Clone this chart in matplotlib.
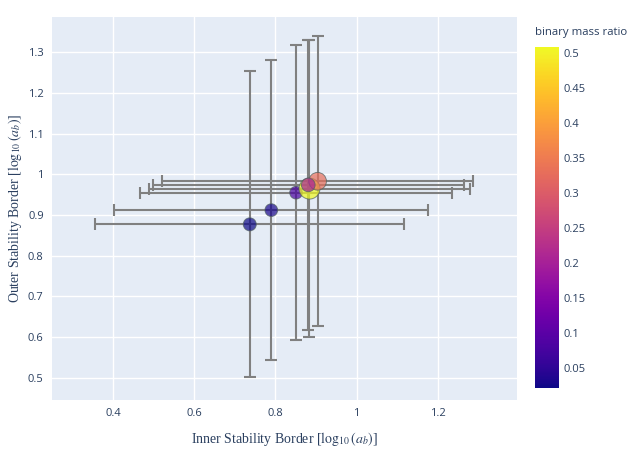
import numpy as np
import matplotlib
matplotlib.use("Agg")
import matplotlib.pyplot as plt
from matplotlib.colors import Normalize

# values
inner = [0.737, 0.790, 0.851, 0.884, 0.904, 0.881]
outer = [0.877, 0.912, 0.955, 0.965, 0.983, 0.974]
inner_err = [0.380, 0.387, 0.385, 0.395, 0.382, 0.383]
outer_err = [0.376, 0.369, 0.363, 0.366, 0.357, 0.357]
mass_ratio = [0.022, 0.030, 0.080, 0.509, 0.330, 0.200]
marker_px = [13.0, 12.7, 12.7, 21.0, 17.7, 13.7]

x_ticks = [0.4, 0.6, 0.8, 1.0, 1.2]
x_ticklabels = ["0.4", "0.6", "0.8", "1", "1.2"]
y_ticks = [0.5, 0.6, 0.7, 0.8, 0.9, 1.0, 1.1, 1.2, 1.3]
y_ticklabels = ["0.5", "0.6", "0.7", "0.8", "0.9", "1", "1.1", "1.2", "1.3"]
cb_ticks = [0.05, 0.1, 0.15, 0.2, 0.25, 0.3, 0.35, 0.4, 0.45, 0.5]
cb_ticklabels = ["0.05", "0.1", "0.15", "0.2", "0.25", "0.3", "0.35", "0.4", "0.45", "0.5"]

W, H = 640, 459
txt = "#2a3f5f"
plt.rcParams["font.family"] = ["Open Sans", "DejaVu Sans"]
plt.rcParams["mathtext.fontset"] = "stix"

fig = plt.figure(figsize=(W / 100, H / 100), dpi=100)
ax = fig.add_axes([52 / W, 1 - 400 / H, 465 / W, 383 / H])
ax.set_facecolor("#E5ECF6")
for s in ax.spines.values():
    s.set_visible(False)
ax.grid(True, color="white", linewidth=1.0)
ax.set_axisbelow(True)

ax.errorbar(inner, outer, xerr=inner_err, yerr=outer_err, fmt="none",
            ecolor="#808080", elinewidth=1.5, capsize=4, capthick=1.5, zorder=2)

norm = Normalize(vmin=min(mass_ratio), vmax=max(mass_ratio))
sizes = [(d * 0.72) ** 2 for d in marker_px]
sc = ax.scatter(inner, outer, c=mass_ratio, s=sizes, cmap="plasma", norm=norm,
                alpha=0.7, edgecolors="#4f6060", linewidths=0.7, zorder=3)

ax.set_xlim(0.25, 1.395)
ax.set_ylim(0.445, 1.387)
ax.set_xticks(x_ticks, x_ticklabels)
ax.set_yticks(y_ticks, y_ticklabels)
ax.tick_params(length=0, labelsize=8, labelcolor=txt, pad=6)

ax.set_xlabel(r"Inner Stability Border [$\log_{10}(a_b)$]", family="Liberation Serif",
              fontsize=10, color=txt)
ax.xaxis.label.set_verticalalignment("center")
ax.xaxis.set_label_coords(0.5, -(439 - 400) / 383)
ax.set_ylabel(r"Outer Stability Border [$\log_{10}(a_b)$]", family="Liberation Serif",
              fontsize=10, color=txt)
ax.yaxis.label.set_verticalalignment("center")
ax.yaxis.set_label_coords(-(52 - 15) / 465, 0.5)

cax = fig.add_axes([535 / W, 1 - 388 / H, 24 / W, 341 / H])
cb = fig.colorbar(sc, cax=cax)
cb.solids.set_alpha(1)
cb.outline.set_visible(False)
cb.set_ticks(cb_ticks, labels=cb_ticklabels)
cax.tick_params(length=0, labelsize=8, labelcolor=txt, pad=3)
fig.text(535 / W, 1 - 33 / H, "binary mass ratio", fontsize=8.2, color=txt,
         ha="left", va="center")

fig.savefig("out.png", dpi=100)
